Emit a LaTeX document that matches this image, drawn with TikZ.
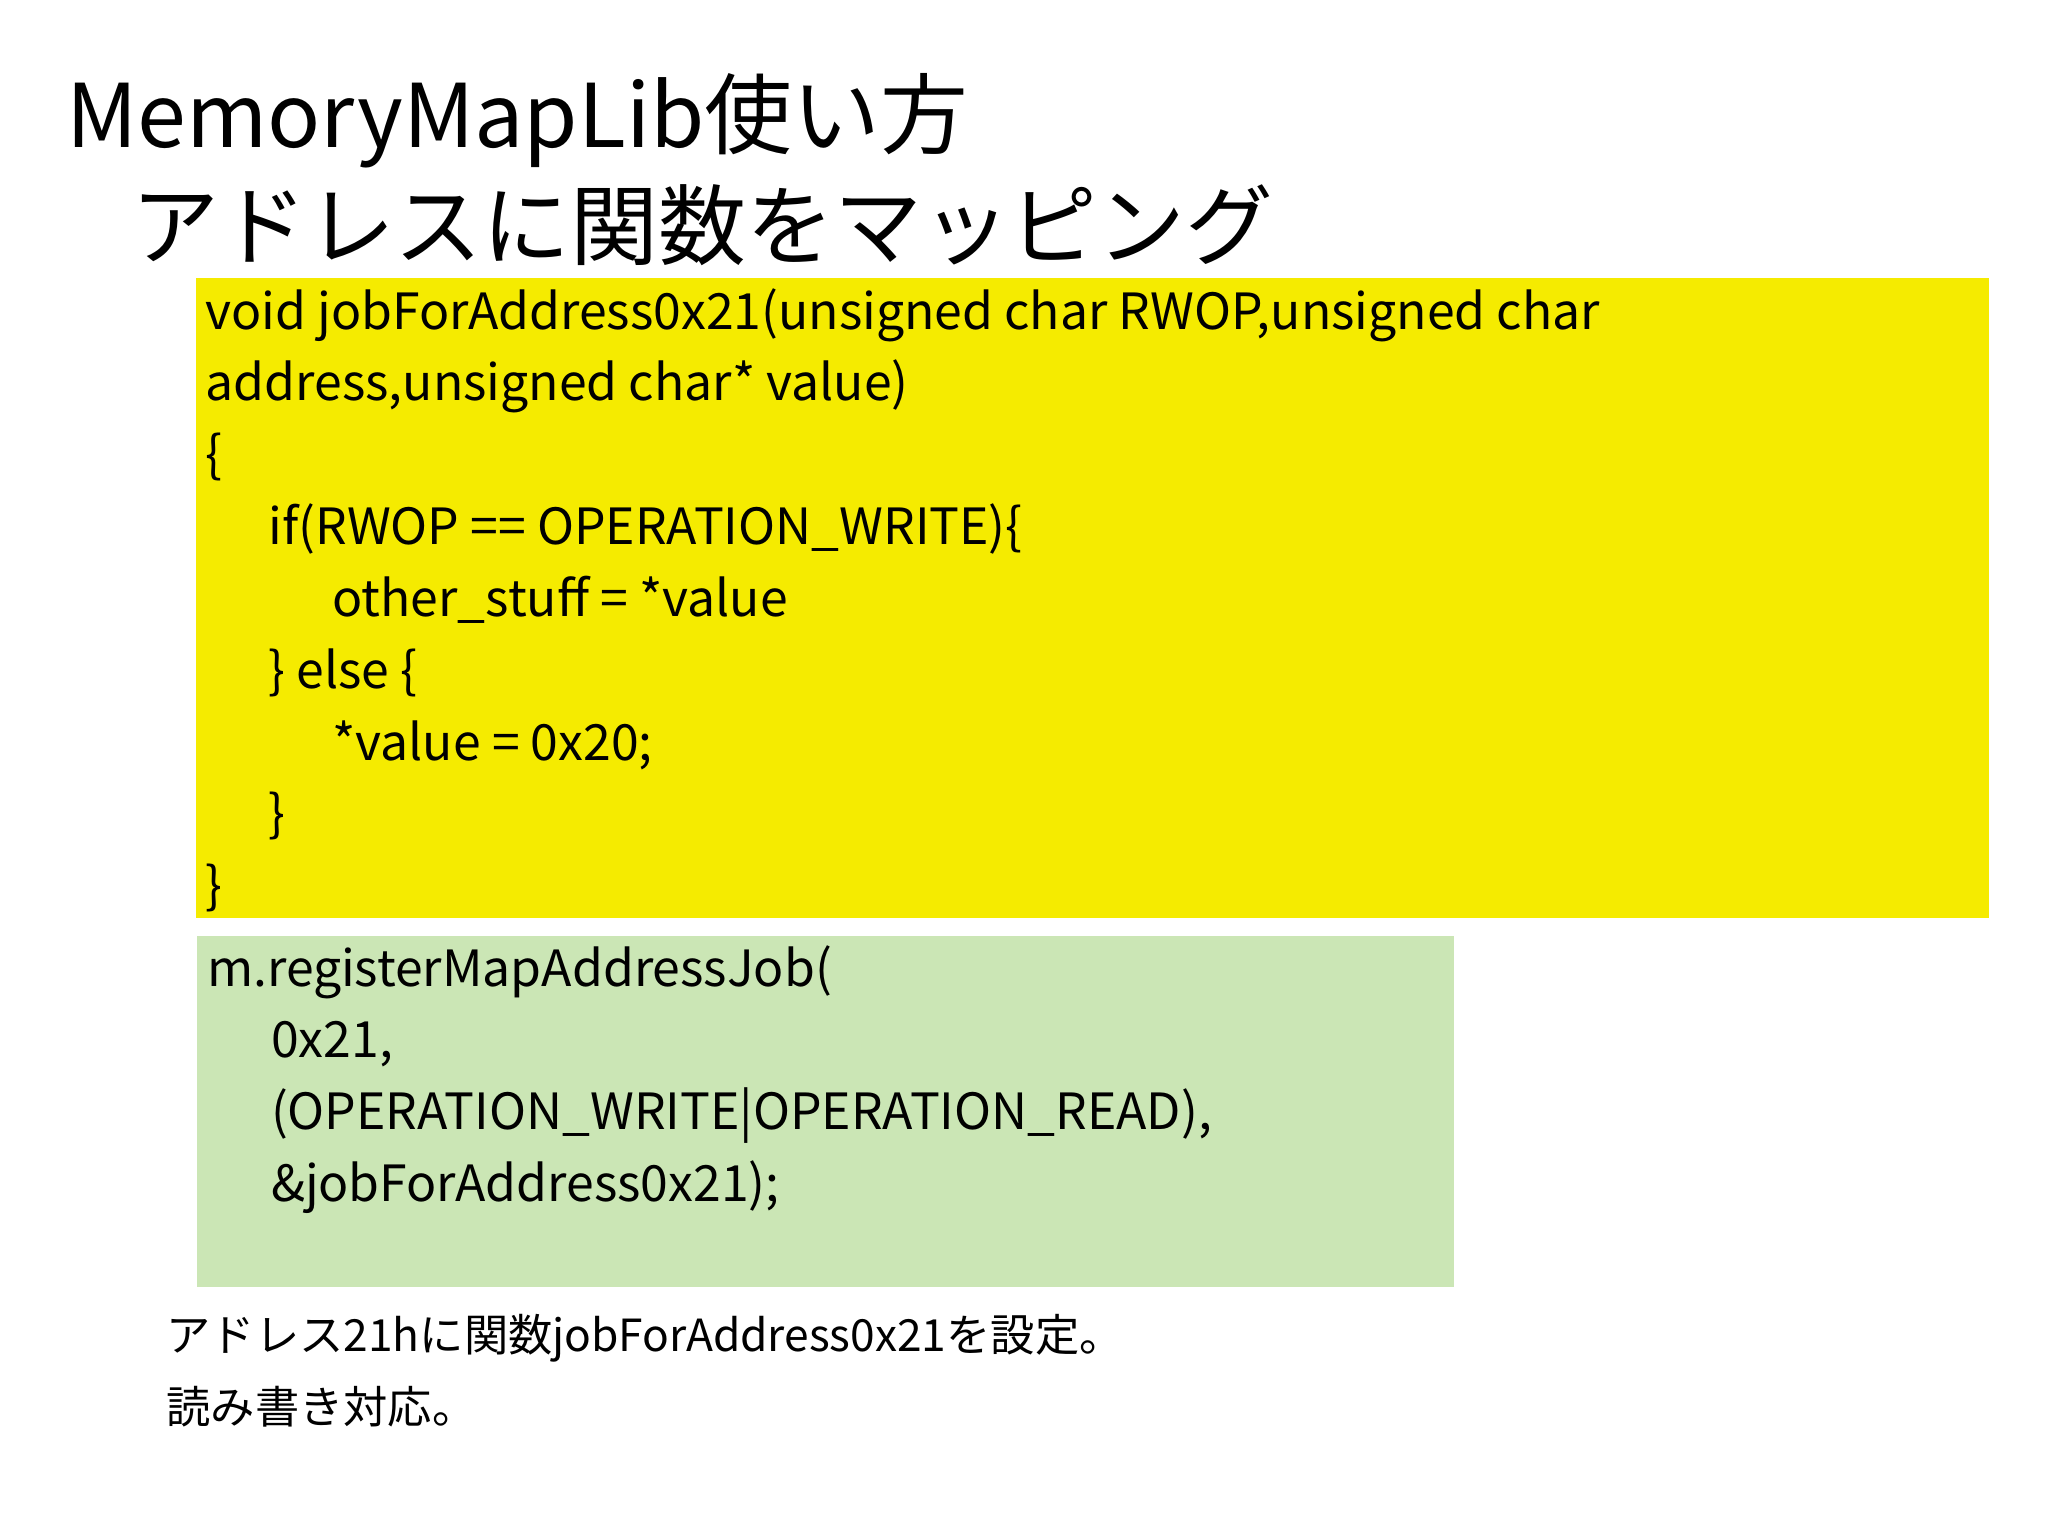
\documentclass[tikz,border=0pt]{standalone}
\usepackage{fontspec}
\setmainfont{Noto Sans CJK JP}
\begin{document}
\begin{tikzpicture}[x=0.013061cm,y=-0.013061cm,
  code/.style={anchor=base west,inner sep=0pt,font=\fontsize{14.2}{16}\selectfont},
  note/.style={anchor=base west,inner sep=0pt,font=\fontsize{12.6}{15}\selectfont}]
\useasboundingbox (0,0) rectangle (1568,1176);
\fill[white] (0,0) rectangle (1568,1176);
\fill[yellow!95!orange!90!white,fill={rgb,255:red,245;green,235;blue,0}] (150,213) rectangle (1523,703);
\fill[fill={rgb,255:red,203;green,230;blue,181}] (151,717) rectangle (1113,985);
\node[anchor=base west,inner sep=0pt,font=\fontsize{25}{30}\selectfont] (title) at (50,113) {MemoryMapLib使い方};
\node[anchor=base west,inner sep=0pt,font=\fontsize{25}{30}\selectfont] (sub) at (100,198) {アドレスに関数をマッピング};
\node[code] (y1) at (157,252) {void jobForAddress0x21(unsigned char RWOP,unsigned char};
\node[code] (y2) at (157,307) {address,unsigned char* value)};
\node[code] (y3) at (157,362) {\{};
\node[code] (y4) at (205,417) {if(RWOP == OPERATION\_WRITE)\{};
\node[code] (y5) at (254,472) {other\_stuff = *value};
\node[code] (y6) at (205,527) {\} else \{};
\node[code] (y7) at (254,582) {*value = 0x20;};
\node[code] (y8) at (205,637) {\}};
\node[code] (y9) at (157,692) {\}};
\node[code] (g1) at (158,755) {m.registerMapAddressJob(};
\node[code] (g2) at (207,810) {0x21,};
\node[code] (g3) at (207,865) {(OPERATION\_WRITE|OPERATION\_READ),};
\node[code] (g4) at (207,920) {\&jobForAddress0x21);};
\node[note] (n1) at (127,1035) {アドレス21hに関数jobForAddress0x21を設定。};
\node[note] (n2) at (127,1090) {読み書き対応。};
\end{tikzpicture}
\end{document}
